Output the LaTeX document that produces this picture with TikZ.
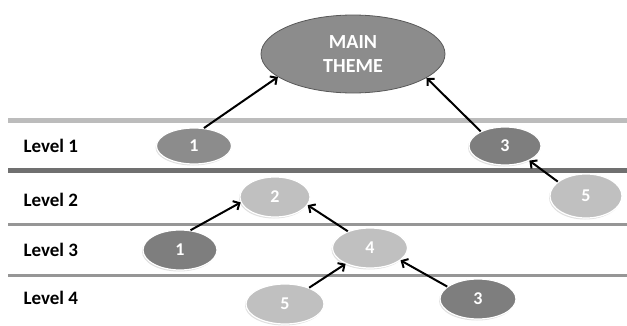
\documentclass[tikz,border=0pt]{standalone}
\usepackage{fontspec}
\setmainfont{Carlito}
\usetikzlibrary{shapes.geometric,shadows,arrows.meta}

\definecolor{midnode}{RGB}{140,140,140}
\definecolor{darknode}{RGB}{126,126,126}
\definecolor{lightnode}{RGB}{192,192,192}
\definecolor{barlight}{RGB}{188,188,188}
\definecolor{bardark}{RGB}{112,112,112}

\begin{document}
\begin{tikzpicture}[x=1pt,y=1pt,
    blob/.style={ellipse,inner sep=0pt,draw=white,line width=1.2pt,text=white,
      font=\fontsize{18}{18}\selectfont\bfseries,
      drop shadow={shadow xshift=-1pt,shadow yshift=-1.5pt,opacity=0.25}},
    darkblob/.style={blob,fill=darknode},
    lightblob/.style={blob,fill=lightnode},
    level/.style={anchor=west,font=\fontsize{19}{19}\selectfont\bfseries},
    arr/.style={-{Straight Barb[length=5pt,width=10pt]},line width=2pt}]
    \useasboundingbox (0,0) rectangle (627,325);
    % bars between the levels
    \draw [barlight,line width=5pt] (8,204.5) -- (627,204.5);
    \draw [bardark,line width=5pt] (8,154.5) -- (627,154.5);
    \draw [barlight!80!black,line width=3pt] (8,101) -- (627,101);
    \draw [barlight!80!black,line width=3pt] (8,50) -- (627,50);
    \node [level] (l1) at (20,179) {Level 1};
    \node [level] (l2) at (20,125) {Level 2};
    \node [level] (l3) at (20,75) {Level 3};
    \node [level] (l4) at (20,27) {Level 4};
    \node [ellipse,fill=midnode,draw=gray!70!black,line width=0.8pt,
      minimum width=184pt,minimum height=78pt,text=white,align=center,
      font=\fontsize{20}{24}\selectfont\bfseries] (main) at (353,271) {MAIN\\THEME};
    \node [blob,fill=midnode,minimum width=75pt,minimum height=36pt] (n11) at (194,179) {1};
    \node [darkblob,minimum width=72pt,minimum height=38pt] (n13) at (505,179) {3};
    \node [lightblob,minimum width=70pt,minimum height=40pt] (n22) at (275,128) {2};
    \node [lightblob,minimum width=72pt,minimum height=44pt] (n25) at (586,129) {5};
    \node [darkblob,minimum width=74pt,minimum height=40pt] (n31) at (180,75) {1};
    \node [lightblob,minimum width=75pt,minimum height=40pt] (n34) at (370,77) {4};
    \node [lightblob,minimum width=78pt,minimum height=40pt] (n45) at (285,21) {5};
    \node [darkblob,minimum width=76pt,minimum height=40pt] (n43) at (478,26) {3};
    \draw [arr] (n11.61) -- (main.197);
    \draw [arr] (n13.149) -- (main.342);
    \draw [arr] (n25.153) -- (n13.329);
    \draw [arr] (n31.62) -- (n22.189);
    \draw [arr] (n34.143) -- (n22.346);
    \draw [arr] (n45.34) -- (n34.213);
    \draw [arr] (n43.158) -- (n34.338);
\end{tikzpicture}
\end{document}
